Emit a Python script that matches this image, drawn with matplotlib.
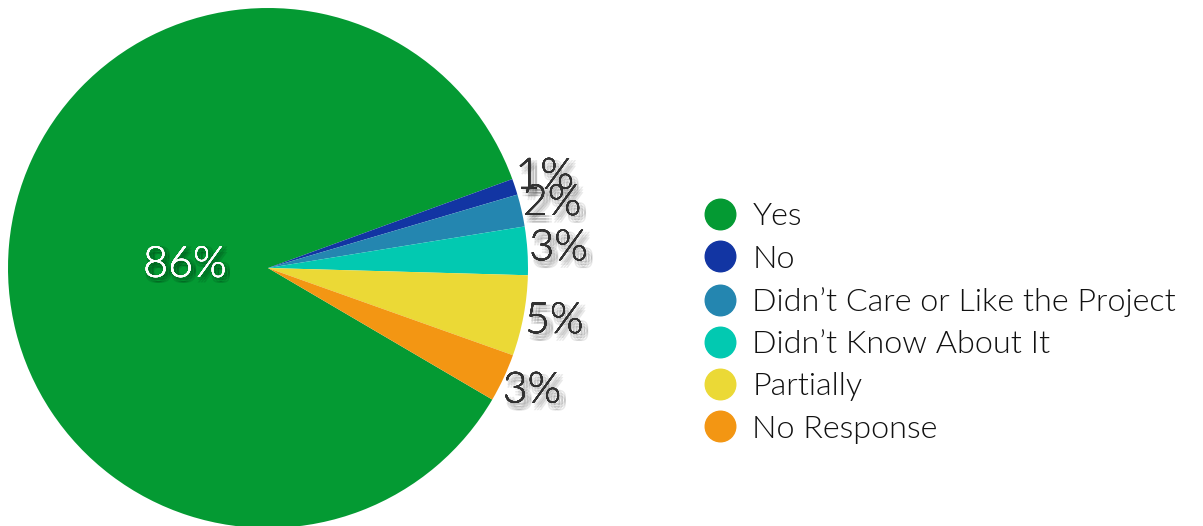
import matplotlib.pyplot as plt
import matplotlib.patheffects as pe
from matplotlib.lines import Line2D

plt.rcParams['font.family'] = ['Lato', 'DejaVu Sans']

# survey answers
labels = ['Yes', 'No', 'Didn\u2019t Care or Like the Project', 'Didn\u2019t Know About It',
          'Partially', 'No Response']
shares = [86, 1, 2, 3, 5, 3]
colors = ['#049a33', '#1235a3', '#2486b0', '#02c9b1', '#ebd936', '#f39613']


def soft_shadow(dx, dy, strength=1.0):
    # several faint offset copies to fake a blurred drop shadow
    fx = []
    for ox in (-2, 0, 2):
        for oy in (-2, 0, 2):
            fx.append(pe.withSimplePatchShadow(offset=(dx + ox, dy + oy), shadow_rgbFace='black',
                                               alpha=0.09 * strength))
    fx.append(pe.Normal())
    return fx


fig = plt.figure(figsize=(12.03, 5.26), dpi=100)
ax = fig.add_axes([8 / 1203, -2 / 526, 520 / 1203, 520 / 526])

wedges, texts, autotexts = ax.pie(shares, colors=colors, startangle=-30.4, counterclock=False,
                                  autopct='%d%%', pctdistance=1.12, radius=1,
                                  wedgeprops=dict(linewidth=0))
ax.set_xlim(-1, 1)
ax.set_ylim(-1, 1)
ax.set_aspect('equal')
ax.axis('off')

for i, t in enumerate(autotexts):
    t.set_fontsize(31)
    t.set_fontweight(300)
    if i == 0:
        t.set_position((-0.32, 0.01))
        t.set_color('white')
        t.set_path_effects(soft_shadow(2, -2, 1.2))
    else:
        t.set_color('#333333')
        t.set_path_effects(soft_shadow(3, -3.5))

handles = [Line2D([], [], marker='o', linestyle='none', markersize=22,
                  markerfacecolor=c, markeredgecolor=c) for c in colors]
fig.legend(handles, labels, loc='center left', bbox_to_anchor=(691 / 1203, 1 - 323 / 526),
           frameon=False, prop=dict(size=23.3, weight=300), labelspacing=0.41,
           handletextpad=0.5, handlelength=1.0, borderaxespad=0, labelcolor='#111111')

fig.savefig('out.png', dpi=100)
